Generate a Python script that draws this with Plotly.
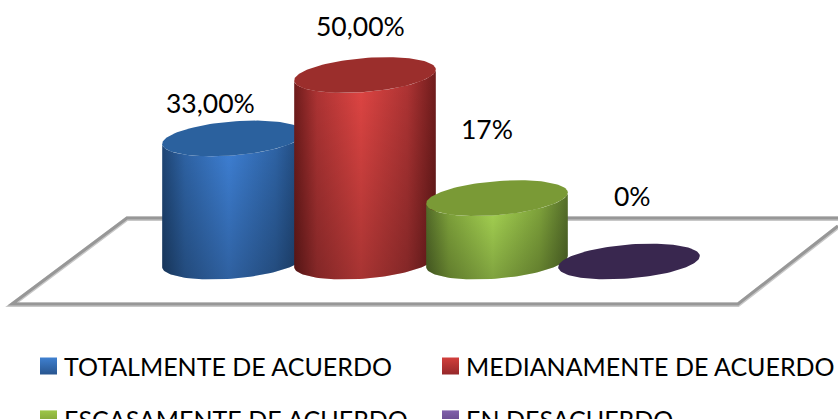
import numpy as np
import plotly.graph_objects as go

# Survey results
categories = ["TOTALMENTE DE ACUERDO", "MEDIANAMENTE DE ACUERDO", "ESCASAMENTE DE ACUERDO", "EN DESACUERDO"]
values = [33, 50, 17, 0]
value_labels = ["33,00%", "50,00%", "17%", "0%"]

# Cylinder palette: edge, shoulder, centre, top cap, key top, key bottom
edge_colors = ["#1f4676", "#701c1c", "#566f2a", "#2c1d40"]
shoulder_colors = ["#2f65a8", "#b03434", "#83a83d", "#39274f"]
mid_colors = ["#3f82d8", "#e24644", "#acdb55", "#4a3268"]
cap_colors = ["#2b619e", "#9b2e2c", "#7a9a36", "#39274f"]
legend_top = ["#3f80d0", "#d23f3c", "#9dc648", "#8060ab"]
legend_bottom = ["#28558f", "#95282a", "#76952f", "#5c4080"]

W, H = 838, 419
X0, DX = 233.0, 132.0      # pixel centre of the first cylinder, spacing
Y0, DY = 261.5, 3.73       # pixel line of 0 %, pixels per 1 %
RX, RY, TILT = 70.8, 17.0, 5.5  # ellipse radii and slant, pixels

x_range = [-X0 / DX, (W - X0) / DX]
y_range = [(Y0 - H) / DY, Y0 / DY]


def ellipse_offsets(t):
    """Ellipse outline relative to its centre, in axis units."""
    dx = RX * np.cos(t)
    dy_px = RY * np.sin(t) - TILT * np.cos(t)
    return dx / DX, -dy_px / DY


def to_x(px):
    return (px - X0) / DX


def to_y(py):
    return (Y0 - py) / DY


fig = go.Figure()

for i, v in enumerate(values):
    lower = np.linspace(0, np.pi, 60)
    ox, oy = ellipse_offsets(lower)
    if v > 0:
        bx = np.concatenate([i + ox, i + ox[::-1]])
        by = np.concatenate([oy, v + oy[::-1]])
        bx = np.append(bx, bx[0])
        by = np.append(by, by[0])
        # Side wall: lit from the middle, darker to the edges
        fig.add_trace(go.Scatter(
            x=bx, y=by, mode="lines", line=dict(width=0), fill="toself",
            hoverinfo="skip", showlegend=False,
            fillgradient=dict(type="horizontal", colorscale=[
                [0, edge_colors[i]], [0.16, shoulder_colors[i]], [0.47, mid_colors[i]],
                [0.8, shoulder_colors[i]], [1, edge_colors[i]]],
                start=i - RX / DX, stop=i + RX / DX),
        ))
        # Side wall: shading towards the floor
        fig.add_trace(go.Scatter(
            x=bx, y=by, mode="lines", line=dict(width=0), fill="toself",
            hoverinfo="skip", showlegend=False,
            fillgradient=dict(type="vertical", colorscale=[
                [0, "rgba(0,0,0,0.26)"], [1, "rgba(0,0,0,0)"]]),
        ))
    # Top cap
    cx, cy = ellipse_offsets(np.linspace(0, 2 * np.pi, 120))
    fig.add_trace(go.Scatter(
        x=i + cx, y=v + cy, mode="lines", line=dict(width=0), fill="toself",
        fillcolor=cap_colors[i], hoverinfo="skip", showlegend=False,
    ))

# Data labels, nudged from the top of each cylinder
label_shift = [(-22.5, 35.5), (-4.5, 49), (-10.5, 69.5), (3, 66)]
annotations = []
for i, (v, text, (sx, sy)) in enumerate(zip(values, value_labels, label_shift)):
    annotations.append(dict(
        x=i, y=v, xref="x", yref="y", text=text, showarrow=False,
        xshift=sx, yshift=sy, font=dict(family="Lato", size=26.5, color="#000000"),
    ))

# Two-column key; the second row runs off the bottom edge
key_x = [48.5, 450.5, 48.5, 450.5]
key_y = [366, 366, 418.9, 418.9]
for name, px, py, top, bottom in zip(categories, key_x, key_y, legend_top, legend_bottom):
    fig.add_trace(go.Scatter(
        x=[to_x(px)], y=[to_y(py)], mode="markers", cliponaxis=False,
        marker=dict(symbol="square", size=17, color=top,
                    gradient=dict(type="vertical", color=bottom)),
        hoverinfo="skip", showlegend=False,
    ))
    annotations.append(dict(
        x=(px + 13) / W, y=1 - py / H, xref="paper", yref="paper", text=name, showarrow=False,
        xanchor="left", yanchor="middle",
        font=dict(family="Lato", size=25, color="#000000"),
    ))


def floor_path(dy=0.0):
    pts = [(838, 218), (127, 218), (12, 304), (738, 304), (838, 226)]
    return "M " + " L ".join(f"{x / W:.5f},{1 - (y + dy) / H:.5f}" for x, y in pts)


shapes = [
    dict(type="path", path=floor_path(0.8), xref="paper", yref="paper", layer="below",
         line=dict(color="#c8c8c8", width=4.5)),
    dict(type="path", path=floor_path(), xref="paper", yref="paper", layer="below",
         line=dict(color="#979797", width=3)),
]

fig.update_layout(
    width=W, height=H, margin=dict(l=0, r=0, t=0, b=0),
    paper_bgcolor="white", plot_bgcolor="rgba(0,0,0,0)",
    xaxis=dict(range=x_range, visible=False, fixedrange=True),
    yaxis=dict(range=y_range, visible=False, fixedrange=True),
    showlegend=False, annotations=annotations, shapes=shapes,
)

fig.write_html("out.html", config={"displayModeBar": False})
